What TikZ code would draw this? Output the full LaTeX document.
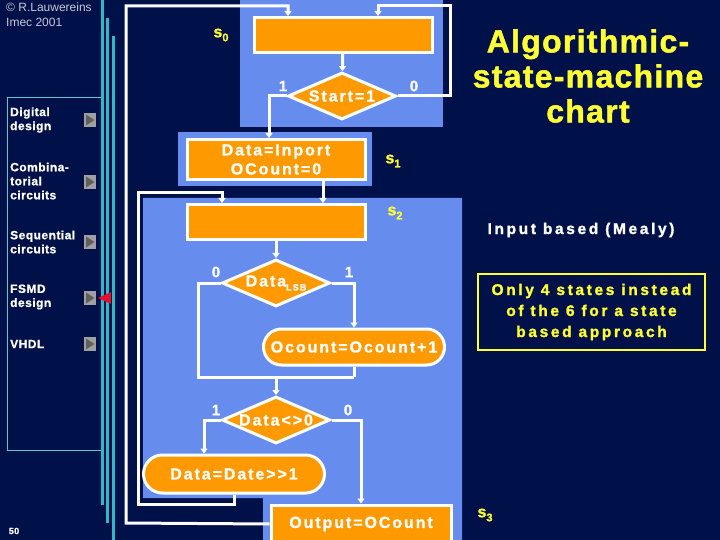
\documentclass[tikz,border=0pt]{standalone}
\usepackage{fontspec}
\setmainfont{Liberation Sans}
\newfontfamily\navfont{Liberation Sans}[LetterSpace=4, BoldFeatures={FakeBold=1}]
\newfontfamily\asmfont{Liberation Sans}[LetterSpace=12, BoldFeatures={FakeBold=1.2}]
\newfontfamily\notefont{Liberation Sans}[LetterSpace=17, BoldFeatures={FakeBold=1.5}]
\newfontfamily\titlefont{Liberation Sans}[LetterSpace=4, BoldFeatures={FakeBold=1.5}]
\usetikzlibrary{arrows.meta,shapes.geometric,shapes.misc}

\definecolor{slidebg}{RGB}{0,16,72}
\definecolor{stateblue}{RGB}{102,141,238}
\definecolor{asmorange}{RGB}{255,153,0}
\definecolor{barcyan}{RGB}{48,184,200}
\definecolor{hiyellow}{RGB}{255,255,51}
\definecolor{btngray}{RGB}{160,160,160}
\definecolor{btndark}{RGB}{96,96,96}
\definecolor{navred}{RGB}{230,16,40}
\definecolor{credgray}{RGB}{200,200,215}

\newcommand{\stname}[1]{s\raisebox{-4pt}{\fontsize{11}{11}\selectfont #1}}

\begin{document}
\begin{tikzpicture}[
  x=1pt, y=-1pt,
  >={Triangle[length=5pt,width=7pt]},
  every node/.style={inner sep=0pt},
  asmtext/.style={text=white, font=\asmfont\bfseries\fontsize{16}{19}\selectfont},
  stbox/.style={asmtext, draw=white, line width=3pt, fill=asmorange, align=center,
    minimum width=178pt, minimum height=35pt},
  decision/.style={asmtext, diamond, draw=white, line width=3pt, fill=asmorange,
    aspect=2.3, minimum width=108pt, minimum height=47pt},
  condout/.style={asmtext, rounded rectangle, draw=white, line width=3pt, fill=asmorange,
    minimum width=181pt, minimum height=36pt},
  wire/.style={draw=white, line width=3pt},
  flow/.style={wire, ->},
  brlabel/.style={text=white, font=\asmfont\bfseries\fontsize{15}{15}\selectfont},
  stlabel/.style={text=hiyellow, font=\asmfont\bfseries\fontsize{16}{16}\selectfont},
  navitem/.style={anchor=west, align=left, text=white, font=\navfont\bfseries\fontsize{12}{14}\selectfont},
  navbtn/.style={fill=btngray, minimum width=12pt, minimum height=14pt,
    path picture={\fill[btndark] (path picture bounding box.north west) ++(2pt,-1.5pt)
      -- ++(8.5pt,-5.5pt) -- ++(-8.5pt,-5.5pt) -- cycle;}},
  state region/.style={fill=stateblue},
]
  \useasboundingbox (0,0) rectangle (720,540);
  \fill[slidebg] (0,0) rectangle (720,540);

  % ---------- navigation column ----------
  \fill[barcyan] (101,0) rectangle (104,505);
  \fill[barcyan] (106,18) rectangle (109,523);
  \fill[barcyan] (112,36) rectangle (115,540);
  \draw[barcyan!80!white, line width=0.8pt] (101,97) -| (7,450) -- (101,450);

  \node[anchor=north west, align=left, text=credgray, font=\fontsize{12}{15}\selectfont]
    (credit) at (6,3) {© R.Lauwereins\\Imec 2001};

  \node[navitem] (nDig)  at (10,120) {Digital\\design};
  \node[navitem] (nComb) at (10,181) {Combina-\\torial\\circuits};
  \node[navitem] (nSeq)  at (10,242) {Sequential\\circuits};
  \node[navitem] (nFsmd) at (10,297) {FSMD\\design};
  \node[navitem] (nVhdl) at (10,344) {VHDL};
  \foreach \yy/\nm in {120/bDig, 182/bComb, 242/bSeq, 298/bFsmd, 344/bVhdl}
    \node[navbtn] (\nm) at (90,\yy) {};
  \fill[navred] (98,298) -- (111,292) -- (111,304) -- cycle;

  \node[text=white, font=\navfont\bfseries\fontsize{9}{9}\selectfont] (pageno) at (14,531) {50};

  % ---------- state regions ----------
  \fill[state region] (240,0) rectangle (443,127);
  \fill[state region] (178,132) rectangle (372,186);
  \fill[state region] (143,198) -- (462,198) -- (462,540) -- (263,540)
    -- (263,498) -- (143,498) -- cycle;

  % ---------- ASM chart ----------
  \node[stbox]    (s0box) at (343,35)    {};
  \node[decision] (d0)    at (342,96)    {Start=1};
  \node[stbox, minimum height=40pt] (s1box) at (276,159.5) {Data=Inport\\OCount=0};
  \node[stbox]    (s2box) at (276,222)   {};
  \node[decision] (d1)    at (276,283)   {Data\raisebox{-4pt}{\fontsize{9}{9}\selectfont LSB}};
  \node[condout]  (ocbox) at (354,347)   {Ocount=Ocount+1};
  \coordinate     (join)  at (276,377);
  \node[decision] (d2)    at (276,420)   {Data<>0};
  \node[condout, minimum height=38pt] (dsbox) at (234,474) {Data=Date>>1};
  \node[stbox, minimum width=180pt, minimum height=38pt] (outbox) at (361,524) {Output=OCount};

  % state names
  \node[stlabel] (ls0) at (221,35)  {\stname{0}};
  \node[stlabel] (ls1) at (393,161) {\stname{1}};
  \node[stlabel] (ls2) at (395,213) {\stname{2}};
  \node[stlabel] (ls3) at (485,515) {\stname{3}};

  % branch values
  \node[brlabel] (d0one)  at (283,86)  {1};
  \node[brlabel] (d0zero) at (414,86)  {0};
  \node[brlabel] (d1zero) at (216,272) {0};
  \node[brlabel] (d1one)  at (349,272) {1};
  \node[brlabel] (d2one)  at (216,410) {1};
  \node[brlabel] (d2zero) at (348,410) {0};

  % connections
  \draw[flow] (s0box) -- (d0);
  \draw[flow] (d0.east) -| (450,6) -| ([xshift=35pt]s0box.north);
  \draw[flow] (d0.west) -| ([xshift=-7pt]s1box.north);
  \draw[flow] ([xshift=47pt]s1box.south) -- ([xshift=47pt]s2box.north);
  \draw[flow] (s2box) -- (d1);
  \draw[flow] (d1.east) -| (ocbox.north);
  \draw[wire] (d1.west) -| (198,377) -- (ocbox.south |- join);
  \draw[wire] (ocbox.south) -- (ocbox.south |- join);
  \draw[flow] (join) -- (d2.north);
  \draw[flow] (d2.west) -| ([xshift=-30pt]dsbox.north);
  \draw[flow] (d2.east) -| (outbox.north);
  \draw[flow] (dsbox.south) -- (234,504) -| (138,193) -| ([xshift=-54pt]s2box.north);
  \draw[flow] (outbox.west) -- (126,523) |- (288,6) -- ([xshift=-55pt]s0box.north);

  % ---------- right-hand text ----------
  \node[align=center, text=hiyellow, font=\titlefont\bfseries\fontsize{32}{35}\selectfont]
    (title) at (588,76) {Algorithmic-\\state-machine\\chart};
  \node[text=white, font=\notefont\bfseries\fontsize{15.5}{15}\selectfont]
    (mealy) at (581,230) {Input based (Mealy)};
  \node[draw=hiyellow, line width=2.5pt, minimum width=227pt, minimum height=76pt,
    align=center, text=hiyellow, font=\notefont\bfseries\fontsize{15.5}{21}\selectfont]
    (note) at (591.5,312) {Only 4 states instead\\of the 6 for a state\\based approach};
\end{tikzpicture}
\end{document}
